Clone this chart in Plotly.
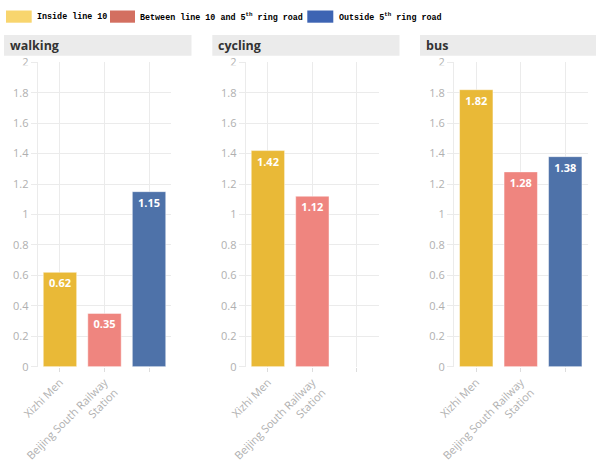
import plotly.graph_objects as go

# ---- data ----
categories = ["Xizhi Men", "Beijing South Railway<br>Station", ""]
walking = [0.62, 0.35, 1.15]
cycling = [1.42, 1.12, None]
bus = [1.82, 1.28, 1.38]
panels = ["walking", "cycling", "bus"]
groups = ["Inside line 10", "Between line 10 and 5<sup>th</sup> ring road", "Outside 5<sup>th</sup> ring road"]

bar_colors = ["#E9B937", "#EF857F", "#4E72A9"]
legend_colors = ["#F8D56E", "#D36F60", "#3D64B3"]

W, H = 596, 461
def px(x): return x / W
def py(y): return (H - y) / H

x_domains = [(37.7, 171.3), (245.7, 379.0), (454.0, 587.5)]
y_dom = [py(366.7), py(62.3)]
strips = [(4, 191.5), (212.3, 399.5), (420, 596)]

fig = go.Figure()
series = [walking, cycling, bus]
grid = "#ebebeb"
tickfont = dict(family="Open Sans", size=11, color="#b0b0b0")

for i, (name, vals) in enumerate(zip(panels, series)):
    sfx = "" if i == 0 else str(i + 1)
    fig.add_trace(go.Bar(
        x=[0, 1, 2], y=vals, width=0.75,
        marker=dict(color=bar_colors, line=dict(color="rgba(255,255,255,0.45)", width=1)),
        texttemplate="%{y:.2f}", textposition="inside", insidetextanchor="end",
        textangle=0, constraintext="none",
        textfont=dict(family="Open Sans", size=11, color="white", weight="bold"),
        xaxis="x" + sfx, yaxis="y" + sfx, showlegend=False, hoverinfo="skip",
    ))
    x0, x1 = x_domains[i]
    fig.layout["xaxis" + sfx] = dict(
        domain=[px(x0), px(x1)], range=[-0.5, 2.5], anchor="y" + sfx,
        tickmode="array", tickvals=[0, 1, 2], ticktext=categories,
        tickangle=-45, showgrid=True, gridcolor=grid, gridwidth=1,
        ticks="outside", ticklen=4, tickcolor="#dddddd", tickfont=tickfont,
        zeroline=False, showline=False, automargin=False, fixedrange=True,
    )
    fig.layout["yaxis" + sfx] = dict(
        domain=y_dom, range=[0, 2], dtick=0.2, anchor="x" + sfx,
        showgrid=True, gridcolor=grid, gridwidth=1,
        ticks="outside", ticklen=6, tickcolor=grid, tickfont=tickfont,
        zeroline=False, showline=True, linecolor=grid, linewidth=1,
        automargin=False, fixedrange=True,
    )
    s0, s1 = strips[i]
    fig.add_shape(type="rect", xref="paper", yref="paper",
                  x0=px(s0), x1=px(s1), y0=py(55.7), y1=py(35),
                  fillcolor="#ebebeb", line=dict(width=0), layer="below")
    fig.add_annotation(xref="paper", yref="paper", x=px(s0 + 4), y=py(45.5),
                       xanchor="left", yanchor="middle", showarrow=False,
                       text=name, font=dict(family="Open Sans", size=12.5,
                                            color="#333333", weight="bold"))
    # the top tick label is partly clipped in the reference
    fig.add_shape(type="rect", xref="paper", yref="paper",
                  x0=px(x0 - 24), x1=px(x0 - 8), y0=py(70), y1=py(65.3),
                  fillcolor="white", line=dict(width=0), layer="above")

# legend (drawn manually)
leg_rects = [(6, 31.7), (110, 135), (307.3, 333.3)]
leg_text_x = [35, 138.3, 336.7]
for (r0, r1), tx, col, g in zip(leg_rects, leg_text_x, legend_colors, groups):
    fig.add_shape(type="rect", xref="paper", yref="paper",
                  x0=px(r0), x1=px(r1), y0=py(22.7), y1=py(10.5),
                  fillcolor=col, line=dict(width=0))
    fig.add_annotation(xref="paper", yref="paper", x=px(tx), y=py(17.5),
                       xanchor="left", yanchor="middle", showarrow=False,
                       text=g, font=dict(family="Liberation Mono", size=8.4,
                                         color="#000000", weight="bold"))

fig.update_layout(
    width=W, height=H, margin=dict(l=0, r=0, t=0, b=0),
    paper_bgcolor="white", plot_bgcolor="white",
    bargap=0.25, showlegend=False,
)
fig.write_html("out.html")
